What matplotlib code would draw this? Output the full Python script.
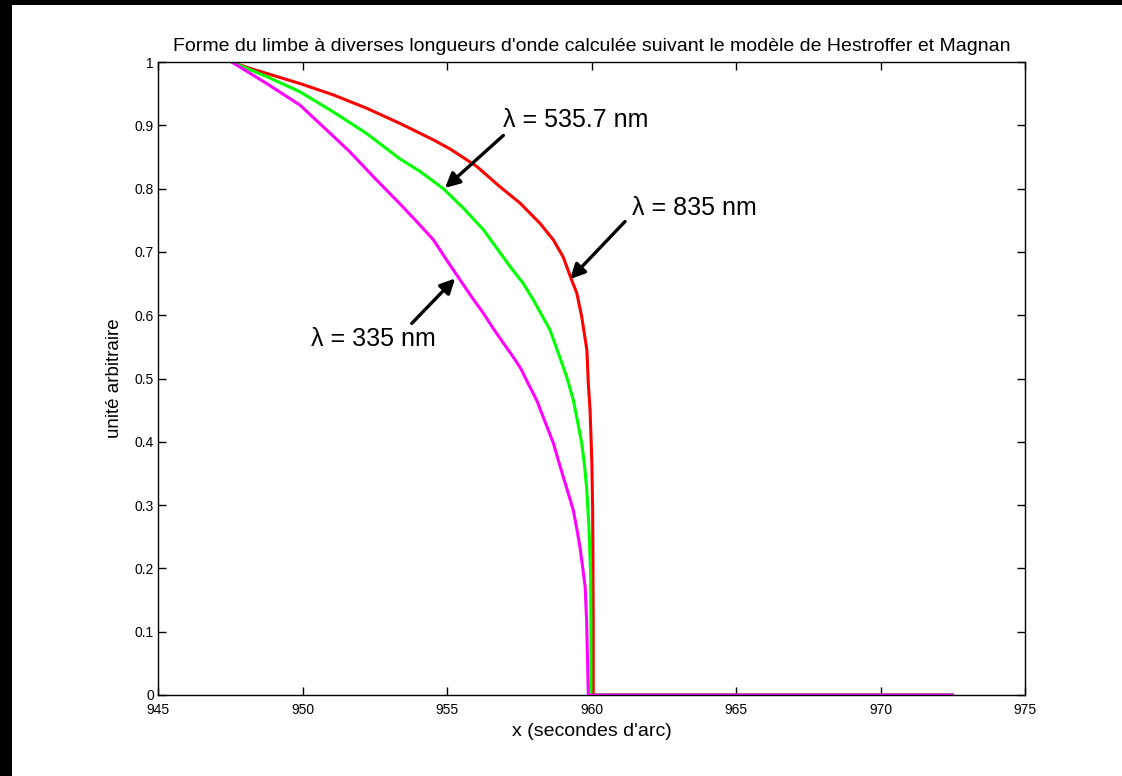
import numpy as np
import matplotlib
matplotlib.use("Agg")
import matplotlib.pyplot as plt
from matplotlib.patches import Rectangle

plt.rcParams['font.family'] = ['Liberation Sans', 'DejaVu Sans']

# --------------------- values ---------------------
x_835 = [947.55, 948.18, 948.76, 949.91, 951.07, 952.22, 953.37, 954.53, 955.13,
         956.03, 956.83, 957.53, 958.22, 958.68, 959.02, 959.31, 959.49, 959.66,
         959.84, 959.89, 959.95, 960.01, 960.04, 960.06, 960.06, 972.5]
y_835 = [1.0, 0.990, 0.982, 0.966, 0.948, 0.927, 0.903, 0.877, 0.862,
         0.835, 0.803, 0.777, 0.745, 0.719, 0.692, 0.656, 0.635, 0.598,
         0.545, 0.492, 0.450, 0.371, 0.292, 0.118, 0.0, 0.0]

x_536 = [947.55, 948.76, 949.91, 951.07, 952.22, 953.37, 954.07, 954.87, 955.57,
         956.26, 956.72, 957.18, 957.64, 957.99, 958.56, 958.79, 959.14, 959.37,
         959.51, 959.66, 959.75, 959.83, 959.91, 959.97, 959.98, 959.98, 972.5]
y_536 = [1.0, 0.977, 0.953, 0.921, 0.887, 0.847, 0.827, 0.800, 0.769,
         0.735, 0.706, 0.677, 0.650, 0.624, 0.577, 0.548, 0.503, 0.466,
         0.434, 0.398, 0.366, 0.329, 0.266, 0.192, 0.118, 0.0, 0.0]

x_335 = [947.55, 948.76, 949.91, 950.78, 951.64, 952.51, 953.37, 953.95, 954.53,
         954.99, 955.45, 955.85, 956.26, 956.60, 956.95, 957.29, 957.55, 957.81,
         958.10, 958.39, 958.68, 958.85, 959.02, 959.20, 959.37, 959.49, 959.60,
         959.69, 959.78, 959.83, 959.89, 972.5]
y_335 = [1.0, 0.966, 0.932, 0.895, 0.858, 0.816, 0.776, 0.748, 0.719,
         0.687, 0.656, 0.629, 0.603, 0.579, 0.556, 0.534, 0.516, 0.492,
         0.466, 0.432, 0.398, 0.371, 0.345, 0.318, 0.292, 0.263, 0.234,
         0.203, 0.171, 0.118, 0.0, 0.0]

x_ticks = [945, 950, 955, 960, 965, 970, 975]
y_ticks = [0, 0.1, 0.2, 0.3, 0.4, 0.5, 0.6, 0.7, 0.8, 0.9, 1]
y_labels = ["0", "0.1", "0.2", "0.3", "0.4", "0.5", "0.6", "0.7", "0.8", "0.9", "1"]

# label text, arrow tail, arrow tip
notes = [
    ("λ = 535.7 nm", (956.95, 0.884), (954.93, 0.801)),
    ("λ = 835 nm", (961.16, 0.748), (959.26, 0.657)),
    ("λ = 335 nm", (953.78, 0.587), (955.28, 0.658)),
]
text_pos = [(956.95, 0.909), (961.4, 0.769), (950.3, 0.563)]

W, H = 1122, 776
fig = plt.figure(figsize=(W / 100, H / 100), dpi=100)
fig.patch.set_facecolor("white")

# black screen border along the top and left edges
fig.patches.append(Rectangle((0, 0), 12 / W, 1, transform=fig.transFigure,
                             facecolor="black", edgecolor="none", zorder=0))
fig.patches.append(Rectangle((0, 1 - 5 / H), 1, 5 / H, transform=fig.transFigure,
                             facecolor="black", edgecolor="none", zorder=0))

ax = fig.add_axes([158 / W, 1 - 695 / H, (1025 - 158) / W, (695 - 62) / H])

line_kw = dict(lw=2.2, solid_joinstyle="round", solid_capstyle="round")
ax.plot(x_835, y_835, color="#ff0000", **line_kw)
ax.plot(x_536, y_536, color="#00ff00", **line_kw)
ax.plot(x_335, y_335, color="#ff00ff", **line_kw)

for (label, tail, tip), tpos in zip(notes, text_pos):
    ax.annotate("", xy=tip, xytext=tail,
                arrowprops=dict(arrowstyle="-|>", color="black", lw=2.4,
                                mutation_scale=22, shrinkA=0, shrinkB=0))
    ax.text(tpos[0], tpos[1], label, fontsize=18, ha="left", va="center")

ax.set_xlim(945, 975)
ax.set_ylim(0, 1)
ax.set_xticks(x_ticks)
ax.set_xticklabels([str(t) for t in x_ticks])
ax.set_yticks(y_ticks)
ax.set_yticklabels(y_labels)
ax.tick_params(direction="in", length=6, width=1, top=True, right=True,
               labelsize=10)
ax.tick_params(axis="x", pad=6)
ax.tick_params(axis="y", pad=3)
for s in ax.spines.values():
    s.set_linewidth(1)

ax.set_title("Forme du limbe à diverses longueurs d'onde calculée suivant le modèle de Hestroffer et Magnan",
             fontsize=14, pad=8)
ax.set_xlabel("x (secondes d'arc)", fontsize=14, labelpad=4)
ax.set_ylabel("unité arbitraire", fontsize=13.5, labelpad=8)

fig.savefig("out.png", dpi=100)
